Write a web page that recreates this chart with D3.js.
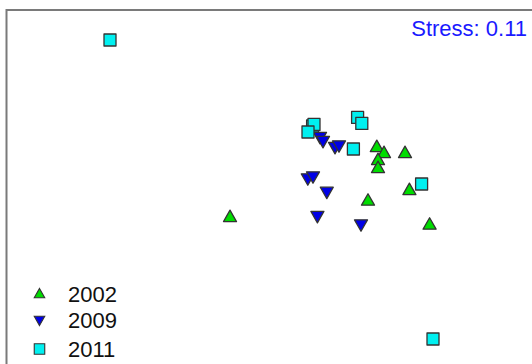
<!DOCTYPE html>
<html>
<head>
<meta charset="utf-8">
<script src="https://cdn.jsdelivr.net/npm/d3@7"></script>
<style>
  html, body { margin: 0; padding: 0; background: #fff; }
  svg { display: block; }
  text { font-family: "Liberation Sans", Arial, sans-serif; }
</style>
</head>
<body>
<svg id="chart" width="532" height="364"></svg>
<script>
// NMDS ordination scores per sampling year
const years = ["2002", "2009", "2011"];
const nmds1_2002 = [0.384, 0.42, 0.525, 0.39, 0.39, 0.547, 0.34, 0.648, -0.35];
const nmds2_2002 = [0.165, 0.135, 0.135, 0.10, 0.06, -0.05, -0.103, -0.223, -0.185];
const nmds1_2009 = [0.10, 0.115, 0.175, 0.195, 0.039, 0.065, 0.134, 0.087, 0.305];
const nmds2_2009 = [0.215, 0.195, 0.165, 0.173, 0.008, 0.018, -0.059, -0.18, -0.222];
const nmds1_2011 = [-0.95, 0.063, 0.07, 0.04, 0.288, 0.309, 0.267, 0.608, 0.665];
const nmds2_2011 = [0.70, 0.27, 0.278, 0.24, 0.313, 0.283, 0.155, -0.02, -0.795];
const stress = 0.11;

const groups = [
  { year: years[0], xs: nmds1_2002, ys: nmds2_2002, shape: "up",     fill: "#00dd00" },
  { year: years[1], xs: nmds1_2009, ys: nmds2_2009, shape: "down",   fill: "#0000e6" },
  { year: years[2], xs: nmds1_2011, ys: nmds2_2011, shape: "square", fill: "#00f0f0" }
];

const svg = d3.select("#chart");
const x = d3.scaleLinear().domain([-1, 1]).range([100, 500]);
const y = d3.scaleLinear().domain([-1, 1]).range([380, -20]);

// plot frame (extends beyond the visible area on the right and bottom)
svg.append("rect")
  .attr("x", 6.5).attr("y", 10)
  .attr("width", 600).attr("height", 500)
  .attr("fill", "none")
  .attr("stroke", "#7a7a7a")
  .attr("stroke-width", 2);

function symbolPath(shape, s) {
  if (shape === "square") {
    return `M${-s/2},${-s/2}h${s}v${s}h${-s}Z`;
  }
  const h = s * 0.88;
  if (shape === "up") {
    return `M0,${-h*0.6}L${s/2},${h*0.4}L${-s/2},${h*0.4}Z`;
  }
  return `M0,${h*0.6}L${s/2},${-h*0.4}L${-s/2},${-h*0.4}Z`;
}

const layer = svg.append("g");
groups.forEach(g => {
  const pts = g.xs.map((v, i) => ({ x: v, y: g.ys[i] }));
  layer.selectAll(null)
    .data(pts)
    .enter().append("path")
    .attr("d", symbolPath(g.shape, g.shape === "square" ? 12 : 13))
    .attr("transform", d => `translate(${x(d.x)},${y(d.y)})`)
    .attr("fill", g.fill)
    .attr("stroke", "#333")
    .attr("stroke-width", 1.3)
    .attr("stroke-linejoin", "round");
});

// stress annotation
svg.append("text")
  .attr("x", 527).attr("y", 36)
  .attr("text-anchor", "end")
  .attr("font-size", 22)
  .attr("fill", "#1a1aff")
  .text(`Stress: ${stress}`);

// legend
const legendY = [294, 320, 349];
const legend = svg.append("g");
groups.forEach((g, i) => {
  legend.append("path")
    .attr("d", symbolPath(g.shape, 10.5))
    .attr("transform", `translate(39.5,${legendY[i]})`)
    .attr("fill", g.fill)
    .attr("stroke", "#333")
    .attr("stroke-width", 1.1);
  legend.append("text")
    .attr("x", 68).attr("y", legendY[i] + 7.5)
    .attr("font-size", 22)
    .attr("fill", "#111")
    .text(g.year);
});
</script>
</body>
</html>
